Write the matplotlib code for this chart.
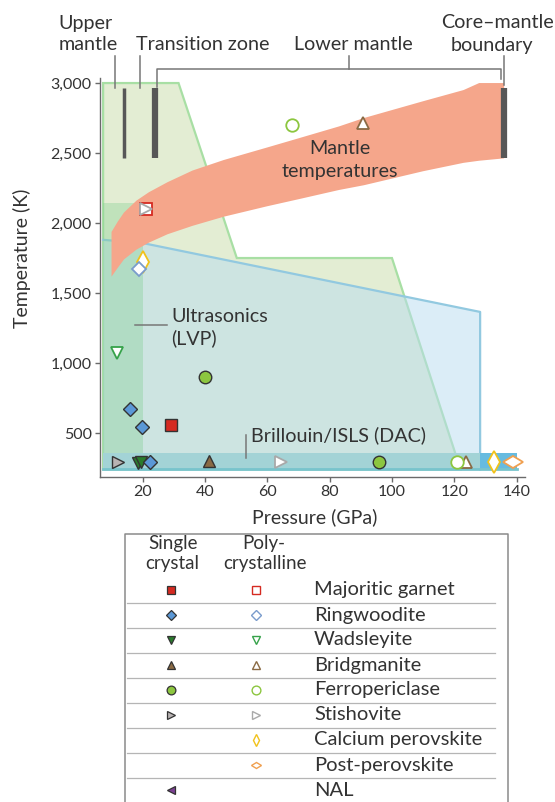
"""
plot.py

Elasticity measurements of mantle minerals in P-T space.
"""

import matplotlib
matplotlib.use("Agg")
import matplotlib.pyplot as plt
from matplotlib.markers import MarkerStyle
from matplotlib.patches import Polygon, Rectangle
from matplotlib.transforms import Affine2D

plt.rcParams["font.family"] = ["Lato", "DejaVu Sans"]

# ============================================================
# Data
# ============================================================
pressure_ticks = [20, 40, 60, 80, 100, 120, 140]
temperature_ticks = [500, 1000, 1500, 2000, 2500, 3000]
temperature_tick_labels = ["500", "1,000", "1,500", "2,000", "2,500", "3,000"]

# mantle temperature band (GPa, K)
mantle_p = [10, 12, 14, 18, 22, 28, 36, 46, 60, 70, 83, 91, 110, 123, 128, 136]
mantle_t_high = [1936, 2010, 2075, 2160, 2220, 2292, 2375, 2450, 2540, 2605, 2690, 2750, 2870, 2950, 3000, 3000]
mantle_t_low = [1617, 1680, 1740, 1810, 1860, 1920, 1980, 2045, 2120, 2170, 2236, 2270, 2370, 2430, 2445, 2462]

# experimental P-T coverage
heated_dac_p = [7.3, 31.5, 50.2, 100, 122, 7.3]
heated_dac_t = [3000, 3000, 1750, 1750, 240, 240]
resistive_p = [7.3, 20, 128.3, 128.3, 7.3]
resistive_t = [1880, 1857, 1365, 240, 240]
lvp_p = [7.3, 20]
lvp_t = [357, 2143]
room_t_p = [7.3, 128.3, 140]
room_t_t = [240, 355]

# boundaries (upper mantle, transition zone, core-mantle)
boundary_p = [14, 24, 136]
boundary_width = [2.5, 4.5, 4.5]
boundary_t = [2464, 2964]

# measurements: single crystal
garnet_sc_p, garnet_sc_t = [29], [555]
ringwoodite_sc_p, ringwoodite_sc_t = [16, 19.9, 22.3], [669, 545, 293]
wadsleyite_sc_p, wadsleyite_sc_t = [18.6, 19.6], [286, 291]
bridgmanite_sc_p, bridgmanite_sc_t = [41.4], [300]
ferropericlase_sc_p, ferropericlase_sc_t = [40, 96], [898, 293]
stishovite_sc_p, stishovite_sc_t = [12.2], [293]

# measurements: polycrystalline
garnet_pc_p, garnet_pc_t = [21], [2100]
ringwoodite_pc_p, ringwoodite_pc_t = [18.9], [1669]
wadsleyite_pc_p, wadsleyite_pc_t = [11.8], [1073]
bridgmanite_pc_p, bridgmanite_pc_t = [90.8, 123.8], [2712, 296]
ferropericlase_pc_p, ferropericlase_pc_t = [67.9, 120.8], [2700, 293]
stishovite_pc_p, stishovite_pc_t = [64.3, 21.2], [293, 2100]
ca_perovskite_pc_p, ca_perovskite_pc_t = [20.2, 132.8], [1724, 293]
post_perovskite_pc_p, post_perovskite_pc_t = [138.9], [293]

legend_names = ["Majoritic garnet", "Ringwoodite", "Wadsleyite", "Bridgmanite",
                "Ferropericlase", "Stishovite", "Calcium perovskite",
                "Post-perovskite", "NAL"]

# ============================================================
# Styles
# ============================================================
TEXT = "#333333"
AXIS = "#6a6a6a"
EDGE = "#333333"
FS = 14.2
hdiamond = MarkerStyle("d", transform=Affine2D().rotate_deg(90))

# name -> (marker, single-crystal fill, poly edge)
STYLE = {
    "Majoritic garnet": ("s", "#d52a21", "#d52a21"),
    "Ringwoodite": ("D", "#5b98d6", "#7a9ccc"),
    "Wadsleyite": ("v", "#2a7c2d", "#36a24a"),
    "Bridgmanite": ("^", "#8a6a44", "#8a6a44"),
    "Ferropericlase": ("o", "#8cc63f", "#8cc63f"),
    "Stishovite": (">", "#b8b3b3", "#a9a9a9"),
    "Calcium perovskite": ("d", None, "#f1c21b"),
    "Post-perovskite": (hdiamond, None, "#f0a050"),
    "NAL": ("<", "#7b3f92", None),
}
SIZE = {"s": 8, "D": 7, "v": 9, "^": 9, "o": 9, ">": 9, "<": 9, "d": 11}


def msize(marker):
    return SIZE.get(marker, 10) if isinstance(marker, str) else 10


def plot_single(ax, name, p, t):
    marker, fill, _ = STYLE[name]
    ax.plot(p, t, linestyle="none", marker=marker, ms=msize(marker),
            mfc=fill, mec=EDGE, mew=1.0, zorder=6)


def plot_poly(ax, name, p, t):
    marker, _, edge = STYLE[name]
    ax.plot(p, t, linestyle="none", marker=marker, ms=msize(marker),
            mfc="white", mec=edge, mew=1.3, zorder=6)


def draw_regions(ax):
    ax.add_patch(Polygon(list(zip(heated_dac_p, heated_dac_t)), closed=True,
                         facecolor="#e3edd3", edgecolor="#a8dfa4", lw=1.6, zorder=1))
    ax.add_patch(Polygon(list(zip(resistive_p, resistive_t)), closed=True,
                         facecolor="#b9dcf0", alpha=0.5, edgecolor="none", zorder=2))
    ax.plot(resistive_p[:4], resistive_t[:4], color="#92c9e0", lw=1.6, zorder=2)
    ax.add_patch(Rectangle((lvp_p[0], lvp_t[0]), lvp_p[1] - lvp_p[0], lvp_t[1] - lvp_t[0],
                           facecolor="#7fcf8f", alpha=0.35, edgecolor="none", zorder=3))
    ax.add_patch(Rectangle((room_t_p[0], room_t_t[0]), room_t_p[1] - room_t_p[0],
                           room_t_t[1] - room_t_t[0], facecolor="#a3d3d6", edgecolor="none", zorder=3))
    ax.add_patch(Rectangle((room_t_p[1], room_t_t[0]), room_t_p[2] - room_t_p[1],
                           room_t_t[1] - room_t_t[0], facecolor="#66bbe0", edgecolor="none", zorder=3))
    ax.plot([room_t_p[0], room_t_p[2]], [room_t_t[0], room_t_t[0]], color="#78c4cc", lw=2, zorder=3)

    # mantle temperatures
    ax.fill_between(mantle_p, mantle_t_low, mantle_t_high, facecolor="#f5a68b",
                    edgecolor="none", zorder=4)
    for p, w in zip(boundary_p, boundary_width):
        ax.plot([p, p], boundary_t, color="#575757", lw=w, solid_capstyle="butt", zorder=5)


def draw_points(ax):
    plot_single(ax, "Majoritic garnet", garnet_sc_p, garnet_sc_t)
    plot_single(ax, "Stishovite", stishovite_sc_p, stishovite_sc_t)
    plot_single(ax, "Wadsleyite", wadsleyite_sc_p, wadsleyite_sc_t)
    plot_single(ax, "Ringwoodite", ringwoodite_sc_p, ringwoodite_sc_t)
    plot_single(ax, "Bridgmanite", bridgmanite_sc_p, bridgmanite_sc_t)
    plot_single(ax, "Ferropericlase", ferropericlase_sc_p, ferropericlase_sc_t)

    plot_poly(ax, "Calcium perovskite", ca_perovskite_pc_p, ca_perovskite_pc_t)
    plot_poly(ax, "Majoritic garnet", garnet_pc_p, garnet_pc_t)
    plot_poly(ax, "Ringwoodite", ringwoodite_pc_p, ringwoodite_pc_t)
    plot_poly(ax, "Wadsleyite", wadsleyite_pc_p, wadsleyite_pc_t)
    plot_poly(ax, "Bridgmanite", bridgmanite_pc_p, bridgmanite_pc_t)
    plot_poly(ax, "Ferropericlase", ferropericlase_pc_p, ferropericlase_pc_t)
    plot_poly(ax, "Stishovite", stishovite_pc_p, stishovite_pc_t)
    plot_poly(ax, "Post-perovskite", post_perovskite_pc_p, post_perovskite_pc_t)


def draw_annotations(bg):
    kw = dict(color=TEXT, fontsize=FS, ha="center", va="center")
    bg.text(86, 23, "Upper", **kw)
    bg.text(88, 45, "mantle", **kw)
    bg.text(203, 45, "Transition zone", **kw)
    bg.text(353, 45, "Lower mantle", **kw)
    bg.text(498, 23, "Core\u2013mantle", **kw)
    bg.text(492, 45, "boundary", **kw)

    lk = dict(color="#777777", lw=1.1)
    bg.plot([115, 115], [56, 88], **lk)
    bg.plot([140, 140], [56, 88], **lk)
    bg.plot([157, 157, 501, 501], [87, 69, 69, 79], **lk)
    bg.plot([349, 349], [56, 69], **lk)
    bg.plot([504, 504], [56, 85], **lk)

    # region labels
    bg.text(171, 316, "Ultrasonics", color=TEXT, fontsize=FS, ha="left", va="center")
    bg.text(171, 338, "(LVP)", color=TEXT, fontsize=FS, ha="left", va="center")
    bg.plot([135, 167], [325, 325], color="#777777", lw=1.1)
    bg.text(251, 435, "Brillouin/ISLS (DAC)", color=TEXT, fontsize=FS, ha="left", va="center")
    bg.plot([246, 246], [435, 458], color="#777777", lw=1.1, zorder=10)
    bg.text(340, 148, "Mantle", color=TEXT, fontsize=FS, ha="center", va="center", zorder=10)
    bg.text(340, 172, "temperatures", color=TEXT, fontsize=FS, ha="center", va="center", zorder=10)

    bg.text(22, 258, "Temperature (K)", color=TEXT, fontsize=14, rotation=90, ha="center", va="center")
    bg.text(315, 517, "Pressure (GPa)", color=TEXT, fontsize=14, ha="center", va="center")


def draw_legend(bg):
    bg.plot([125, 125, 508, 508], [802, 534, 534, 802], color="#8a8a8a", lw=1.1)
    kw = dict(color=TEXT, fontsize=13.5, ha="center", va="center")
    bg.text(173, 543, "Single", **kw)
    bg.text(172, 563, "crystal", **kw)
    bg.text(264, 543, "Poly-", **kw)
    bg.text(265, 563, "crystalline", **kw)

    y0, dy = 590, 25
    for i, name in enumerate(legend_names):
        y = y0 + i * dy
        marker, fill, edge = STYLE[name]
        ms = msize(marker) * (0.52 if name in ("Calcium perovskite", "Post-perovskite") else 0.7)
        if fill is not None:
            bg.plot([171], [y], linestyle="none", marker=marker, ms=ms, mfc=fill, mec=EDGE, mew=0.9)
        if edge is not None:
            bg.plot([256], [y], linestyle="none", marker=marker, ms=ms, mfc="white", mec=edge, mew=1.0)
        bg.text(314, y, name, color=TEXT, fontsize=14.5, ha="left", va="center")
        if i < len(legend_names) - 1:
            bg.plot([127, 495], [y + dy / 2, y + dy / 2], color="#b5b5b5", lw=0.9)


def main():
    fig = plt.figure(figsize=(5.55, 8.02), dpi=100)

    bg = fig.add_axes([0, 0, 1, 1])
    bg.set_xlim(0, 555)
    bg.set_ylim(802, 0)
    bg.axis("off")

    ax = fig.add_axes([100 / 555, 1 - 476.7 / 802, 425 / 555, (476.7 - 78) / 802])
    ax.set_facecolor("none")
    ax.set_xlim(6.3, 142.7)
    ax.set_ylim(188, 3036)

    draw_regions(ax)
    draw_points(ax)

    ax.set_xticks(pressure_ticks)
    ax.set_yticks(temperature_ticks)
    ax.set_yticklabels(temperature_tick_labels)
    for side in ["top", "right"]:
        ax.spines[side].set_visible(False)
    for side in ["left", "bottom"]:
        ax.spines[side].set_color(AXIS)
        ax.spines[side].set_linewidth(1.0)
    ax.tick_params(direction="out", length=3.5, width=1.0, color=AXIS,
                   labelcolor=TEXT, labelsize=11.5, pad=2.5)

    # overlay for text and legend drawn on top
    top = fig.add_axes([0, 0, 1, 1])
    top.set_xlim(0, 555)
    top.set_ylim(802, 0)
    top.axis("off")
    draw_annotations(top)
    draw_legend(top)

    fig.savefig("out.png", dpi=100)
    plt.close(fig)


if __name__ == "__main__":
    main()
